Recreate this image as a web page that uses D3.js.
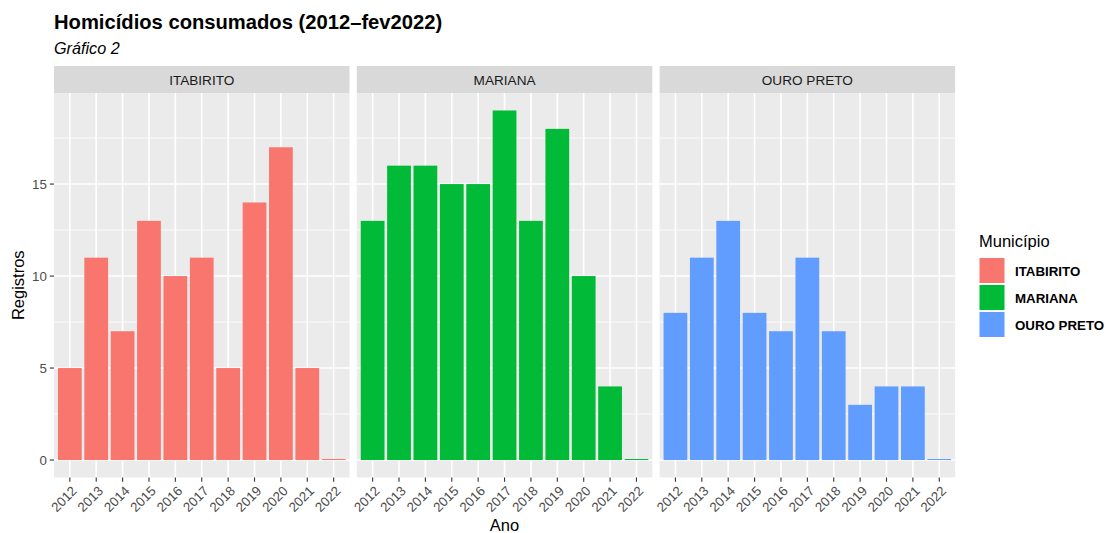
<!DOCTYPE html>
<meta charset="utf-8">
<html>
<body style="margin:0; background-color: white;">
<script src="https://d3js.org/d3.v7.min.js"></script>
<div id="chart"></div>
<script>

// data
var municipios = ["ITABIRITO", "MARIANA", "OURO PRETO"];
var anos = ["2012", "2013", "2014", "2015", "2016", "2017", "2018", "2019", "2020", "2021", "2022"];
var itabirito = [5, 11, 7, 13, 10, 11, 5, 14, 17, 5, 0];
var mariana = [13, 16, 16, 15, 15, 19, 13, 18, 10, 4, 0];
var ouroPreto = [8, 11, 13, 8, 7, 11, 7, 3, 4, 4, 0];
var cores = ["#F8766D", "#00BA38", "#619CFF"];
var yTicks = [0, 5, 10, 15];

var series = [itabirito, mariana, ouroPreto];

var width = 1107, height = 533;
var panelLeft = 54, panelW = 295.5, panelGap = 7.3;
var stripTop = 66, stripH = 27;
var plotTop = stripTop + stripH, plotBottom = 477.5;
var tickLen = 4.2;

var svg = d3.select("#chart").append("svg")
  .attr("width", width).attr("height", height)
  .style("font-family", "'Liberation Sans', Arial, sans-serif");

// y scale, ggplot style 5% expansion
var yMax = d3.max(series, function(s) { return d3.max(s); });
var y = d3.scaleLinear()
  .domain([-yMax * 0.05, yMax * 1.05])
  .range([plotBottom, plotTop]);

var minor = [2.5, 7.5, 12.5, 17.5];

municipios.forEach(function(m, i) {
  var x0 = panelLeft + i * (panelW + panelGap);
  // discrete scale with 0.6 expansion each side
  var unit = panelW / (anos.length - 1 + 1.2);
  var x = d3.scalePoint().domain(anos)
    .range([x0 + 0.6 * unit, x0 + panelW - 0.6 * unit]);
  var bw = unit * 0.9;

  var g = svg.append("g");

  // strip
  g.append("rect").attr("x", x0).attr("y", stripTop)
    .attr("width", panelW).attr("height", stripH).attr("fill", "#D9D9D9");
  g.append("text").attr("x", x0 + panelW / 2).attr("y", stripTop + stripH / 2 + 5)
    .attr("text-anchor", "middle").attr("font-size", "13.6px").attr("fill", "#1A1A1A")
    .text(m);

  // panel background
  g.append("rect").attr("x", x0).attr("y", plotTop)
    .attr("width", panelW).attr("height", plotBottom - plotTop).attr("fill", "#EBEBEB");

  // minor grid
  g.selectAll(".minor").data(minor).enter().append("line")
    .attr("x1", x0).attr("x2", x0 + panelW)
    .attr("y1", function(d) { return y(d); }).attr("y2", function(d) { return y(d); })
    .attr("stroke", "white").attr("stroke-width", 0.8);
  // major grid
  g.selectAll(".hmaj").data(yTicks).enter().append("line")
    .attr("x1", x0).attr("x2", x0 + panelW)
    .attr("y1", function(d) { return y(d); }).attr("y2", function(d) { return y(d); })
    .attr("stroke", "white").attr("stroke-width", 1.6);
  g.selectAll(".vmaj").data(anos).enter().append("line")
    .attr("x1", function(d) { return x(d); }).attr("x2", function(d) { return x(d); })
    .attr("y1", plotTop).attr("y2", plotBottom)
    .attr("stroke", "white").attr("stroke-width", 1.6);

  // bars
  g.selectAll(".bar").data(series[i]).enter().append("rect")
    .attr("x", function(d, j) { return x(anos[j]) - bw / 2; })
    .attr("width", bw)
    .attr("y", function(d) { return y(d) - (d === 0 ? 1 : 0); })
    .attr("height", function(d) { return Math.max(y(0) - y(d), 1); })
    .attr("fill", cores[i]);

  // x axis ticks and labels
  g.selectAll(".xt").data(anos).enter().append("line")
    .attr("x1", function(d) { return x(d); }).attr("x2", function(d) { return x(d); })
    .attr("y1", plotBottom).attr("y2", plotBottom + tickLen)
    .attr("stroke", "#333333").attr("stroke-width", 1.1);
  g.selectAll(".xl").data(anos).enter().append("text")
    .attr("transform", function(d) { return "translate(" + (x(d) + 1) + "," + (plotBottom + tickLen + 3.4) + ") rotate(-45)"; })
    .attr("text-anchor", "end").attr("dy", "0.72em")
    .attr("font-size", "13.3px").attr("fill", "#4D4D4D")
    .text(function(d) { return d; });
});

// y axis
var ya = svg.append("g");
ya.selectAll("line").data(yTicks).enter().append("line")
  .attr("x1", panelLeft - tickLen).attr("x2", panelLeft)
  .attr("y1", function(d) { return y(d); }).attr("y2", function(d) { return y(d); })
  .attr("stroke", "#333333").attr("stroke-width", 1.1);
ya.selectAll("text").data(yTicks).enter().append("text")
  .attr("x", panelLeft - tickLen - 3).attr("y", function(d) { return y(d) + 4.8; })
  .attr("text-anchor", "end").attr("font-size", "13.3px").attr("fill", "#4D4D4D")
  .text(function(d) { return d; });

// axis titles
svg.append("text").attr("transform", "translate(23.5," + ((plotTop + plotBottom) / 2) + ") rotate(-90)")
  .attr("text-anchor", "middle").attr("font-size", "16.5px").attr("fill", "black")
  .text("Registros");
svg.append("text").attr("x", panelLeft + (3 * panelW + 2 * panelGap) / 2).attr("y", 531)
  .attr("text-anchor", "middle").attr("font-size", "16.5px").attr("fill", "black")
  .text("Ano");

// title
svg.append("text").attr("x", panelLeft).attr("y", 29.3)
  .attr("font-size", "20.2px").attr("font-weight", "bold").attr("fill", "black")
  .text("Homicídios consumados (2012–fev2022)");
svg.append("text").attr("x", panelLeft).attr("y", 54)
  .attr("font-size", "16.2px").attr("font-style", "italic").attr("fill", "black")
  .text("Gráfico 2");

// legend
var lg = svg.append("g").attr("transform", "translate(979,0)");
lg.append("text").attr("x", 0).attr("y", 246.7).attr("font-size", "16.5px").attr("fill", "black")
  .text("Município");
municipios.forEach(function(m, i) {
  lg.append("rect").attr("x", 0.5).attr("y", 258 + i * 27).attr("width", 25).attr("height", 25)
    .attr("fill", cores[i]);
  lg.append("text").attr("x", 36).attr("y", 275.5 + i * 27)
    .attr("font-size", "13.3px").attr("font-weight", "bold").attr("fill", "black")
    .text(m);
});

</script>
</body>
</html>
